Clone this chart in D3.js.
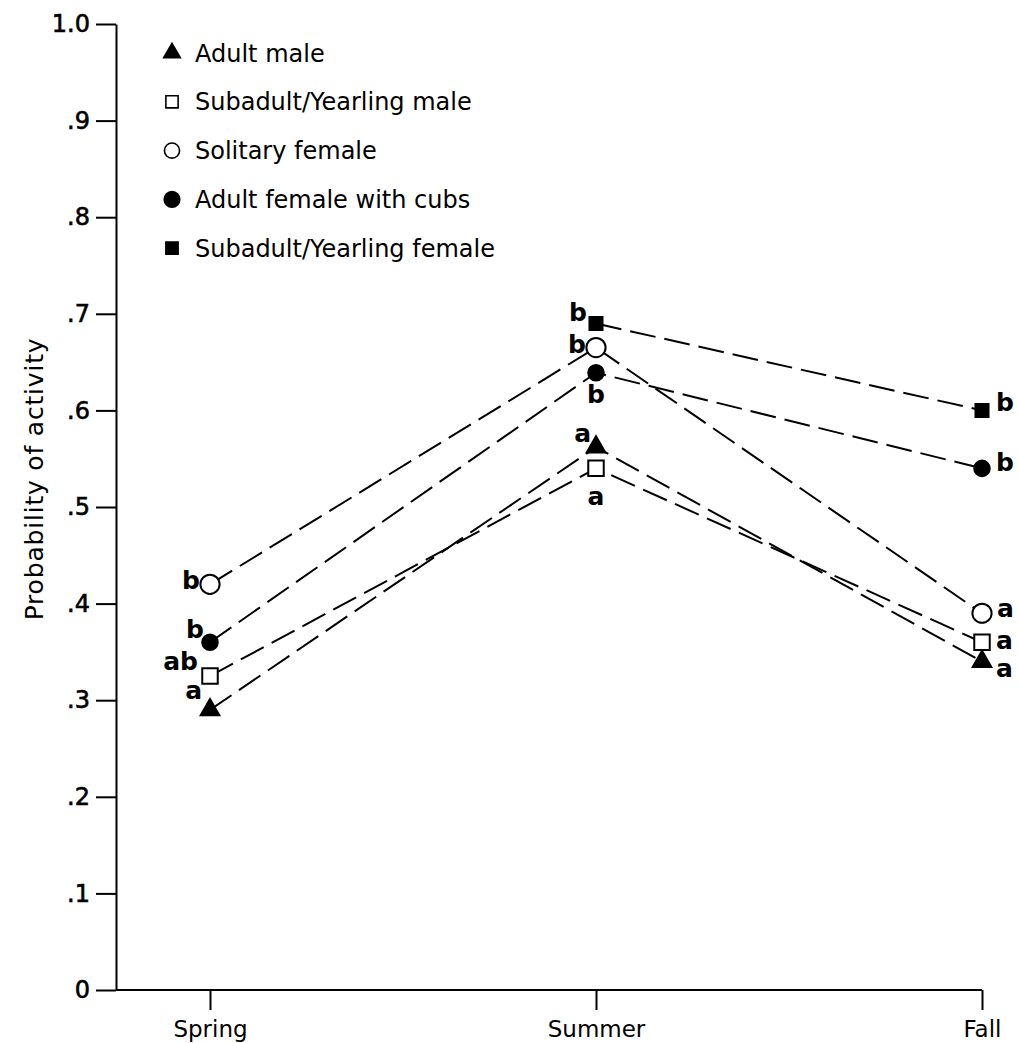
<!DOCTYPE html>
<html>
<head>
<meta charset="utf-8">
<script src="https://cdn.jsdelivr.net/npm/d3@7"></script>
<style>
  body { margin: 0; background: #fff; }
  svg { display: block; }
</style>
</head>
<body>
<svg id="chart" width="1019" height="1043"></svg>
<script>
/* Data */
const seasons = ["Spring", "Summer", "Fall"];
const groups = ["Adult male", "Subadult/Yearling male", "Solitary female",
  "Adult female with cubs", "Subadult/Yearling female"];
const adultMale = [0.29, 0.562, 0.34];
const subadultMale = [0.325, 0.54, 0.36];
const solitaryFemale = [0.42, 0.665, 0.39];
const femaleWithCubs = [0.36, 0.639, 0.54];
const subadultFemale = [null, 0.69, 0.60];
const yTicks = [0, 0.1, 0.2, 0.3, 0.4, 0.5, 0.6, 0.7, 0.8, 0.9, 1.0];
const yTickLabels = ["0", ".1", ".2", ".3", ".4", ".5", ".6", ".7", ".8", ".9", "1.0"];
/* significance letters, per group per season */
const adultMaleLetters = ["a", "a", "a"];
const subadultMaleLetters = ["ab", "a", "a"];
const solitaryFemaleLetters = ["b", "b", "a"];
const femaleWithCubsLetters = ["b", "b", "b"];
const subadultFemaleLetters = [null, "b", "b"];

const seriesValues = [adultMale, subadultMale, solitaryFemale, femaleWithCubs, subadultFemale];
const seriesLetters = [adultMaleLetters, subadultMaleLetters, solitaryFemaleLetters,
  femaleWithCubsLetters, subadultFemaleLetters];

const FONT = "'DejaVu Sans', Verdana, sans-serif";

/* Marker styles */
const symbols = [
  { type: d3.symbolTriangle, size: 150, fill: "#000" },
  { type: d3.symbolSquare, size: 240, fill: "#fff" },
  { type: d3.symbolCircle, size: 290, fill: "#fff" },
  { type: d3.symbolCircle, size: 190, fill: "#000" },
  { type: d3.symbolSquare, size: 170, fill: "#000" }
];

/* Letter placement [dx, dy, anchor] relative to marker centre */
const letterPos = [
  [[-8, -11, "end"], [-5, -5, "end"], [14, 15, "start"]],
  [[-12, -6, "end"], [0, 37, "middle"], [14, 7, "start"]],
  [[-10, 5, "end"], [-10, 5, "end"], [15, 4, "start"]],
  [[-6, -4, "end"], [0, 30, "middle"], [14, 3, "start"]],
  [null, [-9, -2, "end"], [14, 1, "start"]]
];

const svg = d3.select("#chart");
const axisX = 116;

const y = d3.scaleLinear().domain([0, 1]).range([990, 24]);
const x = d3.scalePoint().domain(seasons).range([210, 982]);

/* Y axis */
const yAxis = d3.axisLeft(y)
  .tickValues(yTicks)
  .tickFormat((d, i) => yTickLabels[i])
  .tickSize(20)
  .tickSizeOuter(0)
  .tickPadding(6);

const gy = svg.append("g")
  .attr("transform", `translate(${axisX},0)`)
  .call(yAxis)
  .attr("font-family", FONT)
  .attr("font-size", 24);
gy.select(".domain").attr("stroke", "#000").attr("stroke-width", 2);
gy.selectAll(".tick line").attr("stroke", "#000").attr("stroke-width", 2);
gy.selectAll(".tick text")
  .attr("fill", "#000")
  .attr("stroke", "#000")
  .attr("stroke-width", 0.6);

/* X axis */
const xAxis = d3.axisBottom(x).tickSize(20).tickSizeOuter(0).tickPadding(11);
const gx = svg.append("g")
  .attr("transform", `translate(0,${y(0)})`)
  .call(xAxis)
  .attr("font-family", FONT)
  .attr("font-size", 23);
gx.select(".domain").remove();
gx.append("line")
  .attr("x1", axisX).attr("x2", x("Fall"))
  .attr("stroke", "#000").attr("stroke-width", 2);
gx.selectAll(".tick line").attr("stroke", "#000").attr("stroke-width", 2);
gx.selectAll(".tick text").attr("fill", "#000");

/* Y label */
svg.append("text")
  .attr("transform", `translate(43,479) rotate(-90)`)
  .attr("text-anchor", "middle")
  .attr("font-family", FONT)
  .attr("font-size", 25)
  .attr("letter-spacing", 0.8)
  .text("Probability of activity");

/* Lines */
const line = d3.line()
  .defined(d => d.v !== null)
  .x(d => x(d.s))
  .y(d => y(d.v));

seriesValues.forEach((vals) => {
  const pts = vals.map((v, i) => ({ s: seasons[i], v: v }));
  svg.append("path")
    .datum(pts)
    .attr("d", line)
    .attr("fill", "none")
    .attr("stroke", "#000")
    .attr("stroke-width", 2)
    .attr("stroke-dasharray", "26,9");
});

/* Markers */
seriesValues.forEach((vals, gi) => {
  const sym = symbols[gi];
  svg.selectAll(null)
    .data(vals.map((v, i) => ({ s: seasons[i], v: v })).filter(d => d.v !== null))
    .enter()
    .append("path")
    .attr("d", d3.symbol().type(sym.type).size(sym.size))
    .attr("transform", d => `translate(${x(d.s)},${y(d.v)})`)
    .attr("fill", sym.fill)
    .attr("stroke", "#000")
    .attr("stroke-width", 2);
});

/* Letters */
seriesLetters.forEach((lets, gi) => {
  lets.forEach((l, si) => {
    if (l === null) return;
    const p = letterPos[gi][si];
    svg.append("text")
      .attr("x", x(seasons[si]) + p[0])
      .attr("y", y(seriesValues[gi][si]) + p[1])
      .attr("text-anchor", p[2])
      .attr("font-family", FONT)
      .attr("font-weight", "bold")
      .attr("font-size", 25)
      .text(l);
  });
});

/* Legend */
const legend = svg.append("g").attr("transform", "translate(172,53)");
const legendSizes = [120, 150, 180, 190, 150];
groups.forEach((g, i) => {
  const row = legend.append("g").attr("transform", `translate(0,${i * 48.8})`);
  row.append("path")
    .attr("d", d3.symbol().type(symbols[i].type).size(legendSizes[i]))
    .attr("fill", symbols[i].fill)
    .attr("stroke", "#000")
    .attr("stroke-width", 1.6);
  row.append("text")
    .attr("x", 23)
    .attr("dy", "0.36em")
    .attr("font-family", FONT)
    .attr("font-size", 24)
    .text(g);
});
</script>
</body>
</html>
